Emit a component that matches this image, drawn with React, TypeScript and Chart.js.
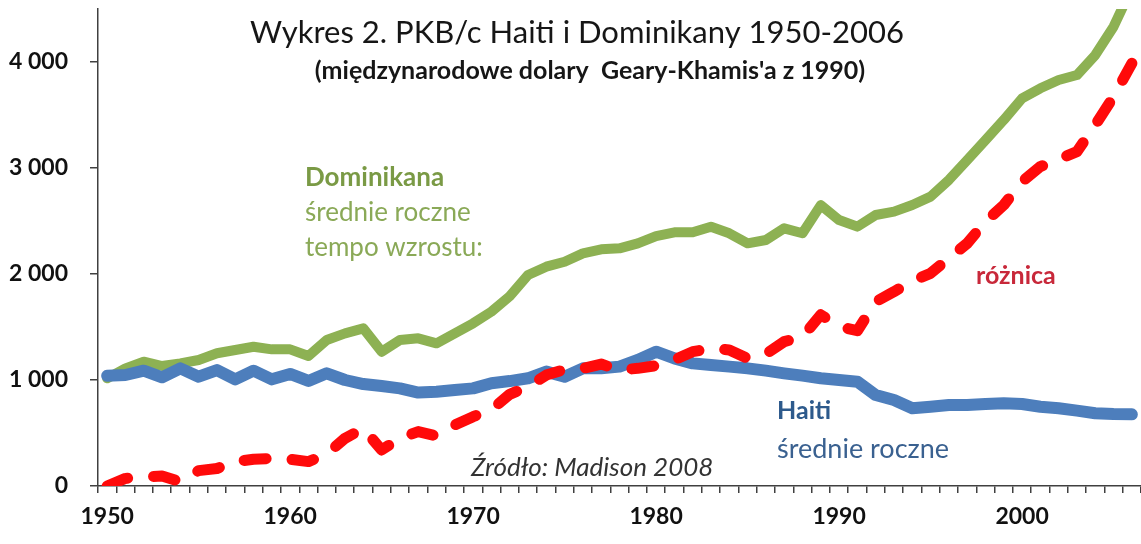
import React, { useEffect, useRef } from "react";
import { Chart, registerables } from "chart.js";

Chart.register(...registerables);

const YEARS: number[] = Array.from({ length: 57 }, (_, i) => 1950 + i);

const HAITI: number[] = [
  1040, 1047, 1088, 1025, 1110, 1031, 1094, 1006, 1088, 1006,
  1057, 991, 1063, 1000, 962, 943, 921, 881, 890, 906,
  921, 970, 990, 1016, 1079, 1031, 1110, 1110, 1126, 1189,
  1267, 1204, 1157, 1142, 1126, 1110, 1088, 1063, 1041, 1016,
  1000, 984, 858, 811, 733, 748, 764, 764, 774, 780,
  774, 748, 733, 711, 686, 679, 676,
];

const DOMINIKANA: number[] = [
  1016, 1110, 1173, 1132, 1157, 1189, 1252, 1283, 1314, 1289,
  1289, 1226, 1377, 1440, 1487, 1267, 1377, 1393, 1346, 1440,
  1535, 1645, 1790, 1991, 2069, 2116, 2195, 2233, 2242, 2289,
  2358, 2393, 2393, 2446, 2384, 2289, 2321, 2431, 2384, 2650,
  2509, 2447, 2557, 2588, 2651, 2730, 2887, 3075, 3264, 3453,
  3657, 3752, 3830, 3877, 4066, 4333, 4700,
];

const ROZNICA: number[] = [
  0, 72, 85, 94, 41, 145, 165, 230, 252, 261,
  252, 230, 302, 450, 544, 340, 450, 513, 472, 575,
  654, 720, 865, 937, 1047, 1100, 1110, 1150, 1094, 1110,
  1135, 1190, 1267, 1299, 1283, 1204, 1245, 1362, 1409, 1615,
  1505, 1465, 1739, 1833, 1934, 2006, 2148, 2289, 2494, 2651,
  2871, 3013, 3082, 3154, 3406, 3673, 3987,
];

const Y_TICKS: number[] = [0, 1000, 2000, 3000, 4000];

const TITLE = "Wykres 2. PKB/c Haiti i Dominikany 1950-2006";
const SUBTITLE = "(międzynarodowe dolary  Geary-Khamis'a z 1990)";
const DOM_LINES = ["Dominikana", "średnie roczne", "tempo wzrostu:"];
const HAITI_LINES = ["Haiti", "średnie roczne"];
const DIFF_LABEL = "różnica";
const SOURCE = "Źródło: Madison 2008";

const GREEN = "#8DB153";
const BLUE = "#4D7EBC";
const RED = "#FF0A0A";

const textPlugin = {
  id: "textAnnotations",
  afterDraw(chart: any) {
    const ctx = chart.ctx as CanvasRenderingContext2D;
    ctx.save();
    ctx.textBaseline = "middle";

    ctx.textAlign = "center";
    ctx.fillStyle = "#161616";
    ctx.font = "31px Lato";
    ctx.fillText(TITLE, 577, 33);
    ctx.font = "bold 25px Lato";
    ctx.fillText(SUBTITLE, 590, 71);

    ctx.textAlign = "left";
    ctx.fillStyle = "#7A9A45";
    ctx.font = "bold 26px Lato";
    ctx.fillText(DOM_LINES[0], 305, 178);
    ctx.fillStyle = "#8AA957";
    ctx.font = "26px Lato";
    ctx.fillText(DOM_LINES[1], 305, 213);
    ctx.fillText(DOM_LINES[2], 305, 248);

    ctx.fillStyle = "#C8283A";
    ctx.font = "bold 25px Lato";
    ctx.fillText(DIFF_LABEL, 976, 276);

    ctx.fillStyle = "#2D5A8C";
    ctx.font = "bold 25px Lato";
    ctx.fillText(HAITI_LINES[0], 777, 411);
    ctx.fillStyle = "#3A6190";
    ctx.font = "27px Lato";
    ctx.fillText(HAITI_LINES[1], 777, 449);

    ctx.fillStyle = "#333333";
    ctx.font = "italic 26px Lato";
    ctx.fillText(SOURCE, 471, 468);

    ctx.restore();
  },
};

export default function App() {
  const ref = useRef<HTMLCanvasElement | null>(null);

  useEffect(() => {
    if (!ref.current) return;
    const chart = new Chart(ref.current, {
      type: "line",
      data: {
        labels: YEARS.map(String),
        datasets: [
          {
            label: "Dominikana",
            data: DOMINIKANA,
            borderColor: GREEN,
            borderWidth: 10,
            borderJoinStyle: "round",
            borderCapStyle: "round",
            pointRadius: 0,
            tension: 0,
            clip: 0,
            order: 3,
          },
          {
            label: "Haiti",
            data: HAITI,
            borderColor: BLUE,
            borderWidth: 12,
            borderJoinStyle: "round",
            borderCapStyle: "round",
            pointRadius: 0,
            tension: 0,
            clip: 0,
            order: 2,
          },
          {
            label: "różnica",
            data: ROZNICA,
            borderColor: RED,
            borderWidth: 11,
            borderDash: [22, 26],
            borderJoinStyle: "round",
            borderCapStyle: "round",
            pointRadius: 0,
            tension: 0,
            clip: 0,
            order: 1,
          },
        ],
      },
      options: {
        responsive: false,
        animation: false,
        layout: { padding: { top: 9, right: 0, bottom: 0, left: 0 } },
        plugins: {
          legend: { display: false },
          tooltip: { enabled: false },
          title: { display: false },
        },
        scales: {
          x: {
            type: "category",
            offset: true,
            grid: {
              offset: true,
              drawOnChartArea: false,
              drawTicks: true,
              tickLength: 7,
              color: "#404040",
              lineWidth: 1.5,
            },
            border: { display: true, color: "#404040", width: 1.5 },
            ticks: {
              autoSkip: false,
              maxRotation: 0,
              minRotation: 0,
              padding: 10,
              color: "#111111",
              font: { family: "Lato", weight: "bold", size: 23 },
              callback: (_v: any, i: number) =>
                YEARS[i] % 10 === 0 ? String(YEARS[i]) : "",
            },
            afterFit: (s: any) => {
              s.height = 58;
              s.paddingLeft = 0;
              s.paddingRight = 0;
            },
          },
          y: {
            min: 0,
            max: 4500,
            grid: {
              drawOnChartArea: false,
              drawTicks: true,
              tickLength: 8,
              color: "#404040",
              lineWidth: 1.5,
            },
            border: { display: true, color: "#404040", width: 1.5 },
            ticks: {
              stepSize: 1000,
              padding: 22,
              color: "#111111",
              font: { family: "Lato", weight: "bold", size: 23 },
              callback: (v: any) =>
                Number(v) === 0 ? "0" : `${Number(v) / 1000} 000`,
            },
            afterBuildTicks: (s: any) => {
              s.ticks = Y_TICKS.map((v) => ({ value: v }));
            },
            afterFit: (s: any) => {
              s.width = 98;
              s.paddingTop = 0;
              s.paddingBottom = 0;
            },
          },
        },
      },
      plugins: [textPlugin],
    } as any);
    return () => chart.destroy();
  }, []);

  return (
    <div
      style={{
        position: "absolute",
        left: 0,
        top: 0,
        width: 1141,
        height: 544,
        background: "#ffffff",
      }}
    >
      <canvas
        ref={ref}
        width={1141}
        height={544}
        style={{ display: "block", width: 1141, height: 544 }}
      />
    </div>
  );
}
